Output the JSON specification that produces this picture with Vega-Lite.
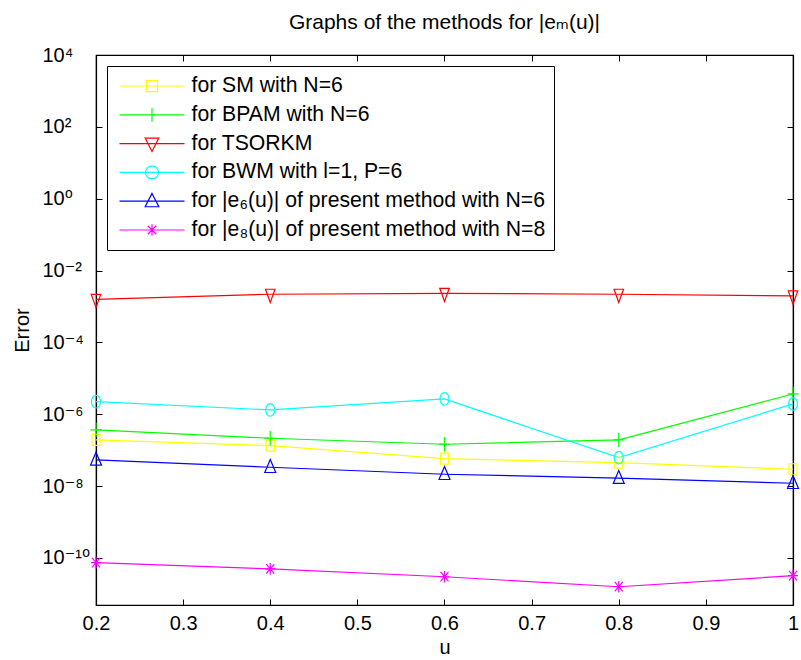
{
  "$schema": "https://vega.github.io/schema/vega-lite/v6.json",
  "width": 697,
  "height": 550,
  "autosize": {"type": "none"},
  "padding": {"left": 96, "top": 55, "right": 8, "bottom": 55},
  "background": "white",
  "title": {"text": "Graphs of the methods for |eₘ(u)|", "fontSize": 21, "font": "Liberation Sans, DejaVu Sans", "fontWeight": "normal", "color": "black", "offset": 12},
  "config": {
    "font": "Liberation Sans",
    "view": {"stroke": "black", "strokeWidth": 1.2},
    "axis": {
      "grid": false, "domainColor": "black", "domainWidth": 1.2, "tickColor": "black", "tickWidth": 1, "tickSize": -6,
      "labelColor": "black", "titleColor": "black", "labelFont": "Liberation Sans, DejaVu Sans", "titleFont": "Liberation Sans",
      "labelFontSize": 20, "titleFontSize": 20, "titleFontWeight": "normal", "labelFlush": false
    },
    "legend": {
      "orient": "none", "legendX": 11, "legendY": 11, "strokeColor": "black", "fillColor": "white", "padding": 8,
      "symbolSize": 4225, "clipHeight": 24, "rowPadding": 4.8, "symbolOffset": 3.5, "labelOffset": 6,
      "labelFontSize": 21.2, "labelFont": "Liberation Sans, DejaVu Sans", "labelColor": "black", "labelLimit": 0, "symbolStrokeWidth": 1.2
    }
  },
  "data": {"values": [
    {"u": 0.2, "err": 1.93e-7, "method": "for SM with N=6"},
    {"u": 0.4, "err": 1.34e-7, "method": "for SM with N=6"},
    {"u": 0.6, "err": 5.8e-8, "method": "for SM with N=6"},
    {"u": 0.8, "err": 4.5e-8, "method": "for SM with N=6"},
    {"u": 1.0, "err": 2.94e-8, "method": "for SM with N=6"},
    {"u": 0.2, "err": 3.66e-7, "method": "for BPAM with N=6"},
    {"u": 0.4, "err": 2.15e-7, "method": "for BPAM with N=6"},
    {"u": 0.6, "err": 1.46e-7, "method": "for BPAM with N=6"},
    {"u": 0.8, "err": 1.93e-7, "method": "for BPAM with N=6"},
    {"u": 1.0, "err": 3.67e-6, "method": "for BPAM with N=6"},
    {"u": 0.2, "err": 1.58e-3, "method": "for TSORKM"},
    {"u": 0.4, "err": 2.19e-3, "method": "for TSORKM"},
    {"u": 0.6, "err": 2.33e-3, "method": "for TSORKM"},
    {"u": 0.8, "err": 2.19e-3, "method": "for TSORKM"},
    {"u": 1.0, "err": 1.96e-3, "method": "for TSORKM"},
    {"u": 0.2, "err": 2.24e-6, "method": "for BWM with l=1, P=6"},
    {"u": 0.4, "err": 1.32e-6, "method": "for BWM with l=1, P=6"},
    {"u": 0.6, "err": 2.67e-6, "method": "for BWM with l=1, P=6"},
    {"u": 0.8, "err": 6.2e-8, "method": "for BWM with l=1, P=6"},
    {"u": 1.0, "err": 1.94e-6, "method": "for BWM with l=1, P=6"},
    {"u": 0.2, "err": 5.35e-8, "method": "for |e₆(u)| of present method with N=6"},
    {"u": 0.4, "err": 3.35e-8, "method": "for |e₆(u)| of present method with N=6"},
    {"u": 0.6, "err": 2.14e-8, "method": "for |e₆(u)| of present method with N=6"},
    {"u": 0.8, "err": 1.66e-8, "method": "for |e₆(u)| of present method with N=6"},
    {"u": 1.0, "err": 1.2e-8, "method": "for |e₆(u)| of present method with N=6"},
    {"u": 0.2, "err": 7.4e-11, "method": "for |e₈(u)| of present method with N=8"},
    {"u": 0.4, "err": 4.95e-11, "method": "for |e₈(u)| of present method with N=8"},
    {"u": 0.6, "err": 3.0e-11, "method": "for |e₈(u)| of present method with N=8"},
    {"u": 0.8, "err": 1.58e-11, "method": "for |e₈(u)| of present method with N=8"},
    {"u": 1.0, "err": 3.2e-11, "method": "for |e₈(u)| of present method with N=8"}
  ]},
  "layer": [
    {
      "mark": {"type": "line", "strokeWidth": 1.2},
      "encoding": {
        "x": {"field": "u", "type": "quantitative", "scale": {"domain": [0.2, 1], "nice": false},
              "axis": {"title": "u", "values": [0.2, 0.3, 0.4, 0.5, 0.6, 0.7, 0.8, 0.9, 1.0], "format": ".1~f", "labelPadding": 14, "titlePadding": 4}},
        "y": {"field": "err", "type": "quantitative", "scale": {"type": "log", "domain": [4.9e-12, 1e4], "nice": false},
              "axis": {"title": "Error", "values": [1e-10, 1e-8, 1e-6, 1e-4, 1e-2, 1, 100, 10000],
                       "labelExpr": "['10⁻¹⁰','10⁻⁸','10⁻⁶','10⁻⁴','10⁻²','10⁰','10²','10⁴'][round((log(datum.value)/LN10+10)/2)]",
                       "labelAlign": "left", "labelPadding": 60, "titlePadding": 10}},
        "color": {"field": "method", "type": "nominal",
                  "scale": {"domain": ["for SM with N=6", "for BPAM with N=6", "for TSORKM", "for BWM with l=1, P=6", "for |e₆(u)| of present method with N=6", "for |e₈(u)| of present method with N=8"],
                            "range": ["#FFFF00", "#00FF00", "#FF0000", "#00FFFF", "#0000FF", "#FF00FF"]},
                  "legend": {"title": null,
                    "encode": {"symbols": {"update": {
                      "shape": {"signal": "['M-1,0H1M-0.17,-0.17H0.17V0.17H-0.17Z','M-1,0H1M0,-0.21V0.21','M-1,0H1M-0.21,-0.17H0.21L0,0.24Z','M-1,0H1M-0.2,0A0.2,0.2 0 1,0 0.2,0A0.2,0.2 0 1,0 -0.2,0Z','M-1,0H1M0,-0.24L0.21,0.17H-0.21Z','M-1,0H1M-0.18,0H0.18M0,-0.18V0.18M-0.13,-0.13L0.13,0.13M-0.13,0.13L0.13,-0.13'][datum.index]"},
                      "fill": {"value": "transparent"},
                      "opacity": {"value": 1}
                    }}}}}
      }
    },
    {
      "mark": {"type": "point", "filled": false, "strokeWidth": 1.2, "size": 100, "opacity": 1},
      "encoding": {
        "x": {"field": "u", "type": "quantitative",
              "axis": {"orient": "top", "labels": false, "title": null, "values": [0.2, 0.3, 0.4, 0.5, 0.6, 0.7, 0.8, 0.9, 1.0]}},
        "y": {"field": "err", "type": "quantitative",
              "axis": {"orient": "right", "labels": false, "title": null, "values": [1e-10, 1e-8, 1e-6, 1e-4, 1e-2, 1, 100, 10000]}},
        "color": {"field": "method", "type": "nominal",
                  "legend": {"title": null,
                    "encode": {"symbols": {"update": {
                      "shape": {"signal": "['M-1,0H1M-0.17,-0.17H0.17V0.17H-0.17Z','M-1,0H1M0,-0.21V0.21','M-1,0H1M-0.21,-0.17H0.21L0,0.24Z','M-1,0H1M-0.2,0A0.2,0.2 0 1,0 0.2,0A0.2,0.2 0 1,0 -0.2,0Z','M-1,0H1M0,-0.24L0.21,0.17H-0.21Z','M-1,0H1M-0.18,0H0.18M0,-0.18V0.18M-0.13,-0.13L0.13,0.13M-0.13,0.13L0.13,-0.13'][datum.index]"},
                      "fill": {"value": "transparent"},
                      "opacity": {"value": 1}
                    }}}}},
        "shape": {"field": "method", "type": "nominal", "legend": null,
                  "scale": {"domain": ["for |e₈(u)| of present method with N=8", "for |e₆(u)| of present method with N=6", "for BWM with l=1, P=6", "for TSORKM", "for BPAM with N=6", "for SM with N=6"],
                            "range": ["M-1,0H1M0,-1.17V1.17M-0.8,-0.95L0.8,0.95M-0.8,0.95L0.8,-0.95", "M0,-1.55L1.1,1.05H-1.1Z", "M-0.9,0A0.9,1.27 0 1,0 0.9,0A0.9,1.27 0 1,0 -0.9,0Z", "M-0.95,-1.0H0.95L0,1.65Z", "M-1.1,0H1.1M0,-1.43V1.43", "M-0.8,-1.1H0.8V1.1H-0.8Z"]}}
      }
    }
  ],
  "resolve": {"axis": {"x": "independent", "y": "independent"}}
}
